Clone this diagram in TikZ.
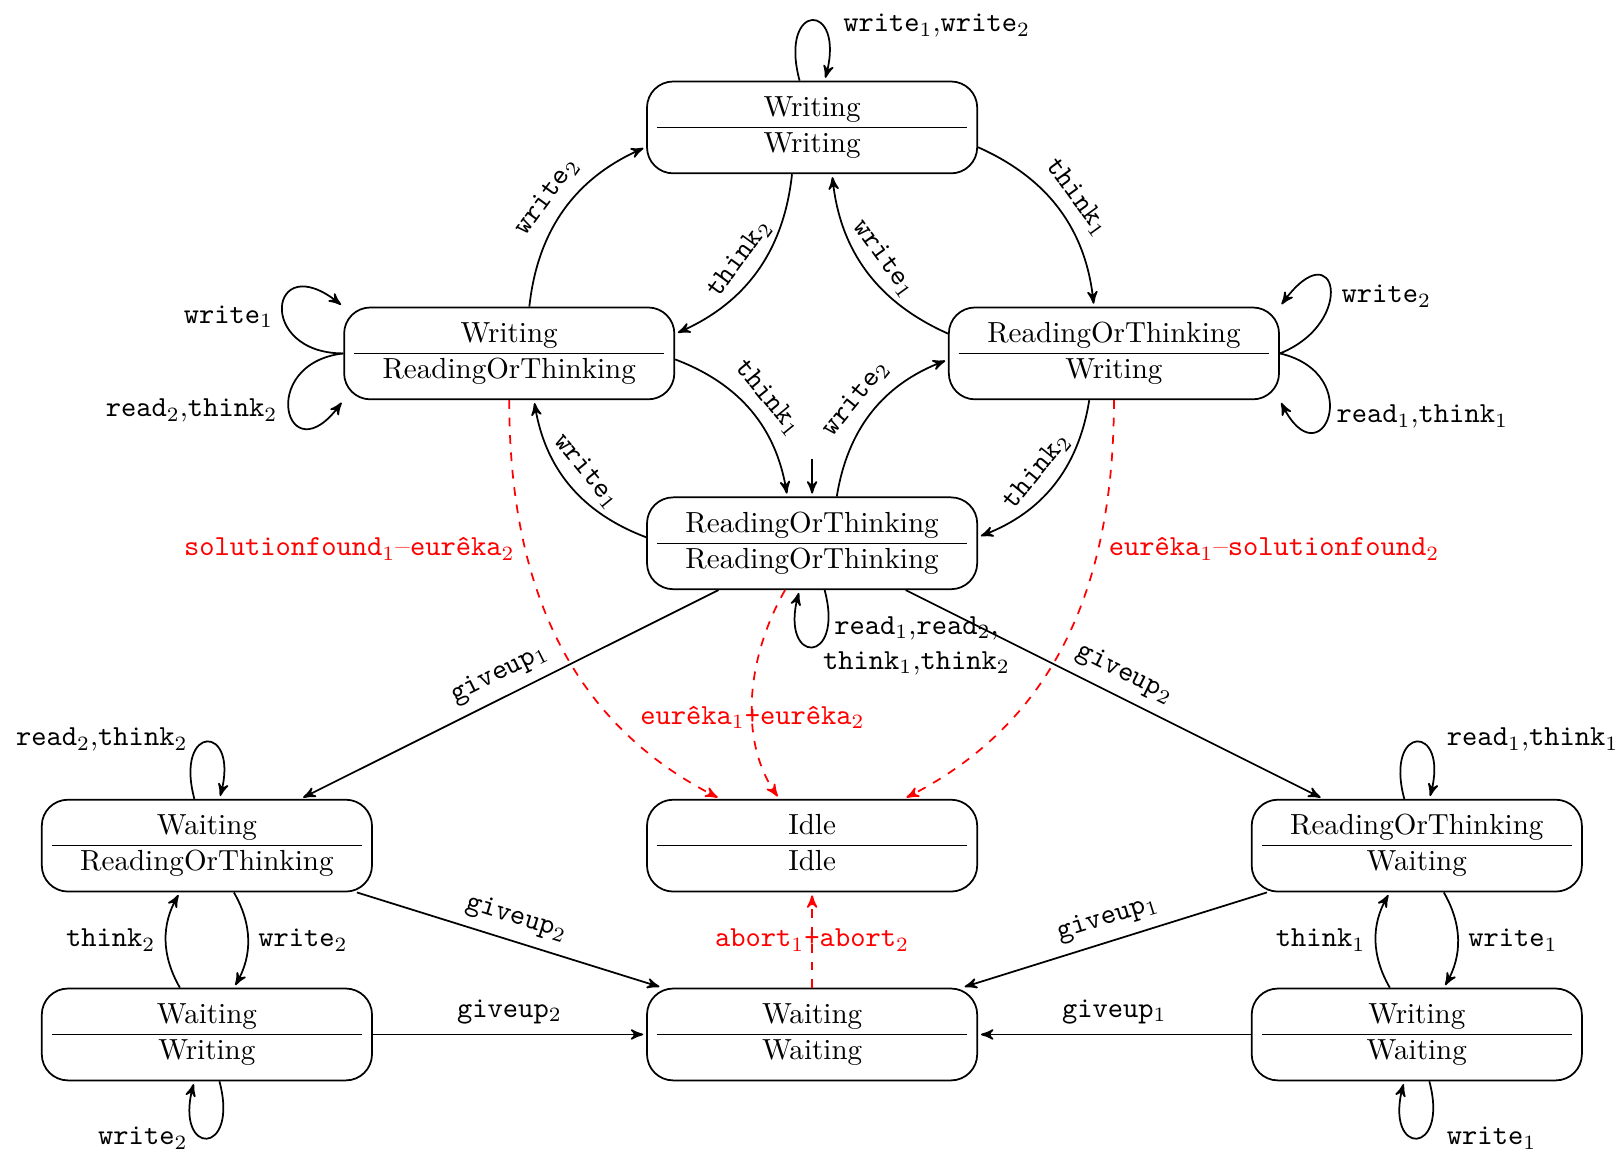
\documentclass[tikz,border=0pt]{standalone}
\usetikzlibrary{arrows}
\newcommand{\actn}[2]{\texttt{#1}$_{#2}$}
% two rows of a state, each row with the height of a table row
\newcommand{\rowstrut}{\rule[-3.6pt]{0pt}{12pt}}
\newcommand{\pair}[2]{\rowstrut#1\\[0.4pt]\rowstrut#2}
\begin{document}
\begin{tikzpicture}[x=0.355pt, y=0.355pt, semithick, >=stealth',
  state/.style={draw, rounded corners=9pt, minimum width=113.6pt,
    minimum height=31.6pt, inner sep=3.333pt, align=center,
    path picture={\draw[thin]
      ([xshift=3.4pt]path picture bounding box.west) --
      ([xshift=-3.4pt]path picture bounding box.east);}},
  arr/.style={->, shorten >=1pt},
  fail/.style={arr, red, dashed}]
\useasboundingbox (0,0) rectangle (1568,-1124);

% states
\node[state] (T)   at (787,-123.5)   {\pair{Writing}{Writing}};
\node[state] (L)   at (493.5,-342.5) {\pair{Writing}{ReadingOrThinking}};
\node[state] (R)   at (1079.5,-342.5){\pair{ReadingOrThinking}{Writing}};
\node[state] (C)   at (787,-526.5)   {\pair{ReadingOrThinking}{ReadingOrThinking}};
\node[state] (I)   at (787,-819.5)   {\pair{Idle}{Idle}};
\node[state] (WR)  at (200.5,-819.5) {\pair{Waiting}{ReadingOrThinking}};
\node[state] (RW)  at (1373,-819.5)  {\pair{ReadingOrThinking}{Waiting}};
\node[state] (WWr) at (200.5,-1002.5){\pair{Waiting}{Writing}};
\node[state] (WW)  at (787,-1002.5)  {\pair{Waiting}{Waiting}};
\node[state] (WrW) at (1373,-1002.5) {\pair{Writing}{Waiting}};

% initial arrow
\coordinate (init) at ([yshift=13pt]C.north);
\draw[arr] (init) -- (C);

% diamond of transitions
\draw[arr] (T) to[bend left=30] node[sloped, above] (t1) {\actn{think}{1}} (R);
\draw[arr] (R) to[bend left=30] node[sloped, above] (w1) {\actn{write}{1}} (T);
\draw[arr] (T) to[bend left=30] node[sloped, above] (t2) {\actn{think}{2}} (L);
\draw[arr] (L) to[bend left=30] node[sloped, above] (w2) {\actn{write}{2}} (T);
\draw[arr] (L) to[bend left=30] node[sloped, above] (t3) {\actn{think}{1}} (C);
\draw[arr] (C) to[bend left=30] node[sloped, above] (w3) {\actn{write}{1}} (L);
\draw[arr] (C) to[bend left=30] node[sloped, above] (w4) {\actn{write}{2}} (R);
\draw[arr] (R) to[bend left=30] node[sloped, above] (t4) {\actn{think}{2}} (C);

% self loops
\draw[arr] (T) to[loop above, min distance=1cm] (T);
\node[anchor=west] (lT) at (807,-25) {\actn{write}{1},\actn{write}{2}};

\draw[arr] (L.west) .. controls +(-85,0) and +(-72,58) .. (L.north west);
\draw[arr] (L.west) .. controls +(-85,-10) and +(-55,-75) .. (L.south west);
\node[anchor=east] (lL1) at (275,-307) {\actn{write}{1}};
\node[anchor=east] (lL2) at (279,-398) {\actn{read}{2},\actn{think}{2}};

\draw[arr] (R.east) .. controls +(75,30) and +(55,75) .. (R.north east);
\draw[arr] (R.east) .. controls +(85,-20) and +(40,-80) .. (R.south east);
\node[anchor=west] (lR1) at (1290,-287) {\actn{write}{2}};
\node[anchor=west] (lR2) at (1285,-404) {\actn{read}{1},\actn{think}{1}};

\draw[arr] (C) to[loop below] (C);
\node[anchor=west, align=center] (lC) at (787.5,-626)
  {\actn{read}{1},\actn{read}{2},\\\actn{think}{1},\actn{think}{2}};

\draw[arr] (WR) to[loop above] (WR);
\node[anchor=east] (lWR) at (192,-717) {\actn{read}{2},\actn{think}{2}};
\draw[arr] (RW) to[loop above] (RW);
\node[anchor=west] (lRW) at (1392,-717) {\actn{read}{1},\actn{think}{1}};
\draw[arr] (WWr) to[loop below] (WWr);
\node[anchor=east] (lWWr) at (192,-1103) {\actn{write}{2}};
\draw[arr] (WrW) to[loop below] (WrW);
\node[anchor=west] (lWrW) at (1392,-1103) {\actn{write}{1}};

% giving up
\draw[arr] (C) -- node[sloped, above] (g1) {\actn{giveup}{1}} (WR);
\draw[arr] (C) -- node[sloped, above] (g2) {\actn{giveup}{2}} (RW);
\draw[arr] (WR) -- node[sloped, above] (g3) {\actn{giveup}{2}} (WW);
\draw[arr] (RW) -- node[sloped, above] (g4) {\actn{giveup}{1}} (WW);
\draw[arr] (WWr) -- node[above] (g5) {\actn{giveup}{2}} (WW);
\draw[arr] (WrW) -- node[above] (g6) {\actn{giveup}{1}} (WW);

% waiting side transitions
\draw[arr] (WR) to[bend left=30] node[right] (s1) {\actn{write}{2}} (WWr);
\draw[arr] (WWr) to[bend left=30] node[left] (s2) {\actn{think}{2}} (WR);
\draw[arr] (RW) to[bend left=30] node[right] (s3) {\actn{write}{1}} (WrW);
\draw[arr] (WrW) to[bend left=30] node[left] (s4) {\actn{think}{1}} (RW);

% terminating transitions
\draw[fail] (L) to[out=270, in=153] node[pos=0.3, left] (f1)
  {\actn{solutionfound}{1}\textendash\actn{eurêka}{2}} (I);
\draw[fail] (C) to[out=240, in=125, looseness=0.9] node[pos=0.6] (f2)
  {\actn{eurêka}{1}\texttt{+}\actn{eurêka}{2}} (I);
\draw[fail] (R) to[out=270, in=27] node[pos=0.3, right] (f3)
  {\actn{eurêka}{1}\textendash\actn{solutionfound}{2}} (I);
\draw[fail] (WW) -- node (f4) {\actn{abort}{1}\texttt{+}\actn{abort}{2}} (I);
\end{tikzpicture}
\end{document}
